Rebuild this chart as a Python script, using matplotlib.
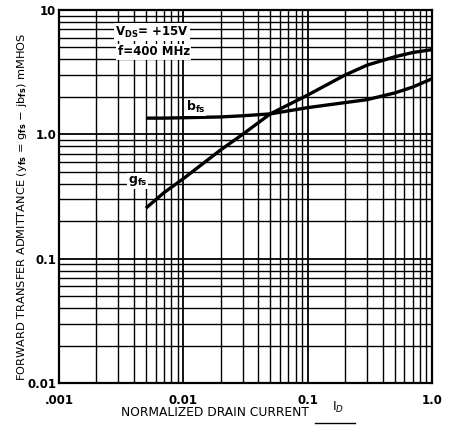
import numpy as np
import matplotlib
matplotlib.use("Agg")
import matplotlib.pyplot as plt

# normalized drain current and admittance (mmhos)
current = [0.005, 0.007, 0.01, 0.02, 0.03, 0.05, 0.1, 0.2, 0.3, 0.5, 0.7, 1.0]
g_fs = [0.255, 0.34, 0.44, 0.75, 1.0, 1.46, 2.07, 3.0, 3.6, 4.2, 4.55, 4.8]
b_fs = [1.35, 1.35, 1.36, 1.38, 1.41, 1.46, 1.64, 1.8, 1.9, 2.15, 2.4, 2.8]

x_ticks = [0.001, 0.01, 0.1, 1.0]
x_labels = [".001", "0.01", "0.1", "1.0"]
y_ticks = [0.01, 0.1, 1.0, 10]
y_labels = ["0.01", "0.1", "1.0", "10"]

plt.rcParams['font.family'] = ['DejaVu Sans']

fig = plt.figure(figsize=(4.56, 4.32), dpi=100)
ax = fig.add_axes([59/456, 49/432, 373/456, 373/432])
ax.set_xscale('log')
ax.set_yscale('log')
ax.set_xlim(0.001, 1.0)
ax.set_ylim(0.01, 10)

# graph paper
ax.grid(which='major', color='black', linewidth=1.3)
ax.grid(which='minor', color='black', linewidth=1.0)
ax.set_axisbelow(True)
for s in ax.spines.values():
    s.set_linewidth(1.6)

ax.set_xticks(x_ticks)
ax.set_xticklabels(x_labels)
ax.set_yticks(y_ticks)
ax.set_yticklabels(y_labels)
ax.tick_params(which='both', length=0, labelsize=8.5, pad=2)
ax.tick_params(axis='x', pad=8)
for lab in ax.get_xticklabels() + ax.get_yticklabels():
    lab.set_fontweight('bold')

ax.plot(current, b_fs, color='black', linewidth=2.4, solid_capstyle='butt')
ax.plot(current, g_fs, color='black', linewidth=2.4, solid_capstyle='butt')

ax.text(0.0125, 1.42, r'b$_{\mathbf{fs}}$', fontsize=9, fontweight='bold',
        ha='center', va='bottom', bbox=dict(facecolor='white', edgecolor='none', pad=0.5))
ax.text(0.0043, 0.42, r'g$_{\mathbf{fs}}$', fontsize=9, fontweight='bold',
        ha='center', va='center', bbox=dict(facecolor='white', edgecolor='none', pad=0.5))

ax.text(0.0056, 6.6, r'V$_{\mathbf{DS}}$= +15V', fontsize=8.5, fontweight='bold',
        ha='center', va='center', bbox=dict(facecolor='white', edgecolor='none', pad=1))
ax.text(0.0058, 4.6, 'f=400 MHz', fontsize=8.5, fontweight='bold',
        ha='center', va='center', bbox=dict(facecolor='white', edgecolor='none', pad=1))

fig.text(22/456, 1 - 207/432,
         r'FORWARD TRANSFER ADMITTANCE (y$_{\mathbf{fs}}$ = g$_{\mathbf{fs}}$ $-$ jb$_{\mathbf{fs}}$) mMHOS',
         rotation=90, ha='center', va='center', fontsize=8.2)
fig.text(309/456, 1 - 413/432, 'NORMALIZED DRAIN CURRENT', ha='right', va='center',
         fontsize=8.8)
fig.text(338/456, 1 - 407/432, r'I$_{D}$', ha='center', va='center', fontsize=9)
fig.add_artist(plt.Line2D([315/456, 355/456], [1 - 423/432, 1 - 423/432],
                          color='black', linewidth=1.0))
fig.text(322/456, 1 - 437/432, 'I', ha='center', va='center', fontsize=9)

fig.savefig('out.png', dpi=100, facecolor='white')
